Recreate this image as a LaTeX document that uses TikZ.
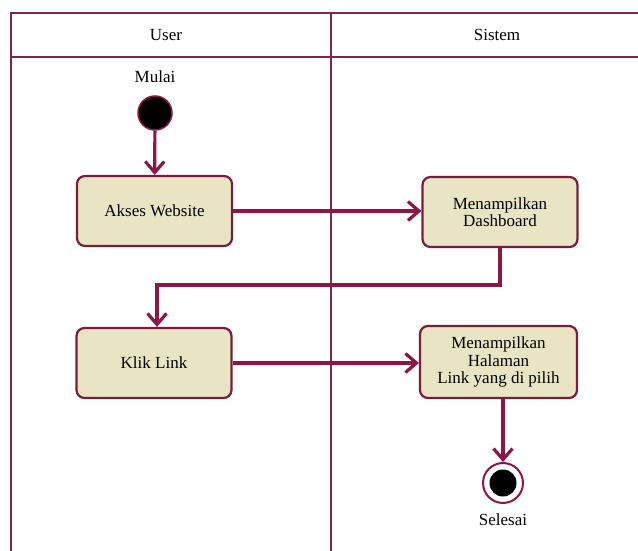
\documentclass[tikz,border=0pt]{standalone}
\usepackage{fontspec}
\setmainfont{Liberation Serif}
\usetikzlibrary{arrows.meta}
\definecolor{frameC}{RGB}{125,40,75}
\definecolor{lineC}{RGB}{140,22,70}
\definecolor{boxC}{RGB}{232,228,196}
\definecolor{boxB}{RGB}{120,30,60}
\begin{document}
\begin{tikzpicture}[x=1pt,y=-1pt,
  lane/.style={draw=frameC,line width=2pt},
  act/.style={draw=boxB,fill=boxC,line width=2.2pt,rounded corners=8pt,minimum width=155pt,minimum height=70pt,align=center,font=\fontsize{17}{17.5}\selectfont,text=black,inner sep=2pt},
  flow/.style={draw=lineC,line width=3.2pt,-{Straight Barb[length=11pt,width=19pt,line width=3.2pt]}},
  lbl/.style={font=\fontsize{17}{18}\selectfont,text=black}]
\useasboundingbox (0,0) rectangle (638,551);
% swimlanes
\draw[lane] (11,560) -- (11,13) -- (645,13);
\draw[lane] (11,57) -- (645,57);
\draw[lane] (331,13) -- (331,560);
\node[lbl] (huser) at (166,35) {User};
\node[lbl] (hsis) at (497,35) {Sistem};
% start
\node[lbl] (mulai) at (155,77) {Mulai};
\node[circle,fill=black,draw=lineC,line width=1.5pt,minimum width=34pt,minimum height=34pt,inner sep=0pt] (start) at (155,113) {};
% activities
\node[act] (akses) at (154.5,211) {Akses Website};
\node[act] (dash) at (500,212) {Menampilkan\\Dashboard};
\node[act] (klik) at (154,363) {Klik Link};
\node[act,minimum width=157pt,minimum height=72pt] (hal) at (498.5,362) {Menampilkan\\Halaman\\Link yang di pilih};
% end
\node[circle,draw=lineC,line width=2pt,fill=white,minimum size=40pt,inner sep=0pt] (endo) at (503,483) {};
\node[circle,fill=black,minimum size=27pt,inner sep=0pt] (endi) at (503,483) {};
\node[lbl] (selesai) at (503,520) {Selesai};
% flows
\draw[flow] (start) -- (akses);
\draw[flow] (akses.east) -- (akses.east -| dash.west);
\coordinate (c1) at (500,285);
\coordinate (c2) at (157,285);
\draw[flow] (dash.south) -- (c1) -- (c2) -- (klik.north -| c2);
\draw[flow] (klik.east) -- (hal.west |- klik.east);
\draw[flow] (hal.south -| endo) -- (endo.north);
\end{tikzpicture}
\end{document}
